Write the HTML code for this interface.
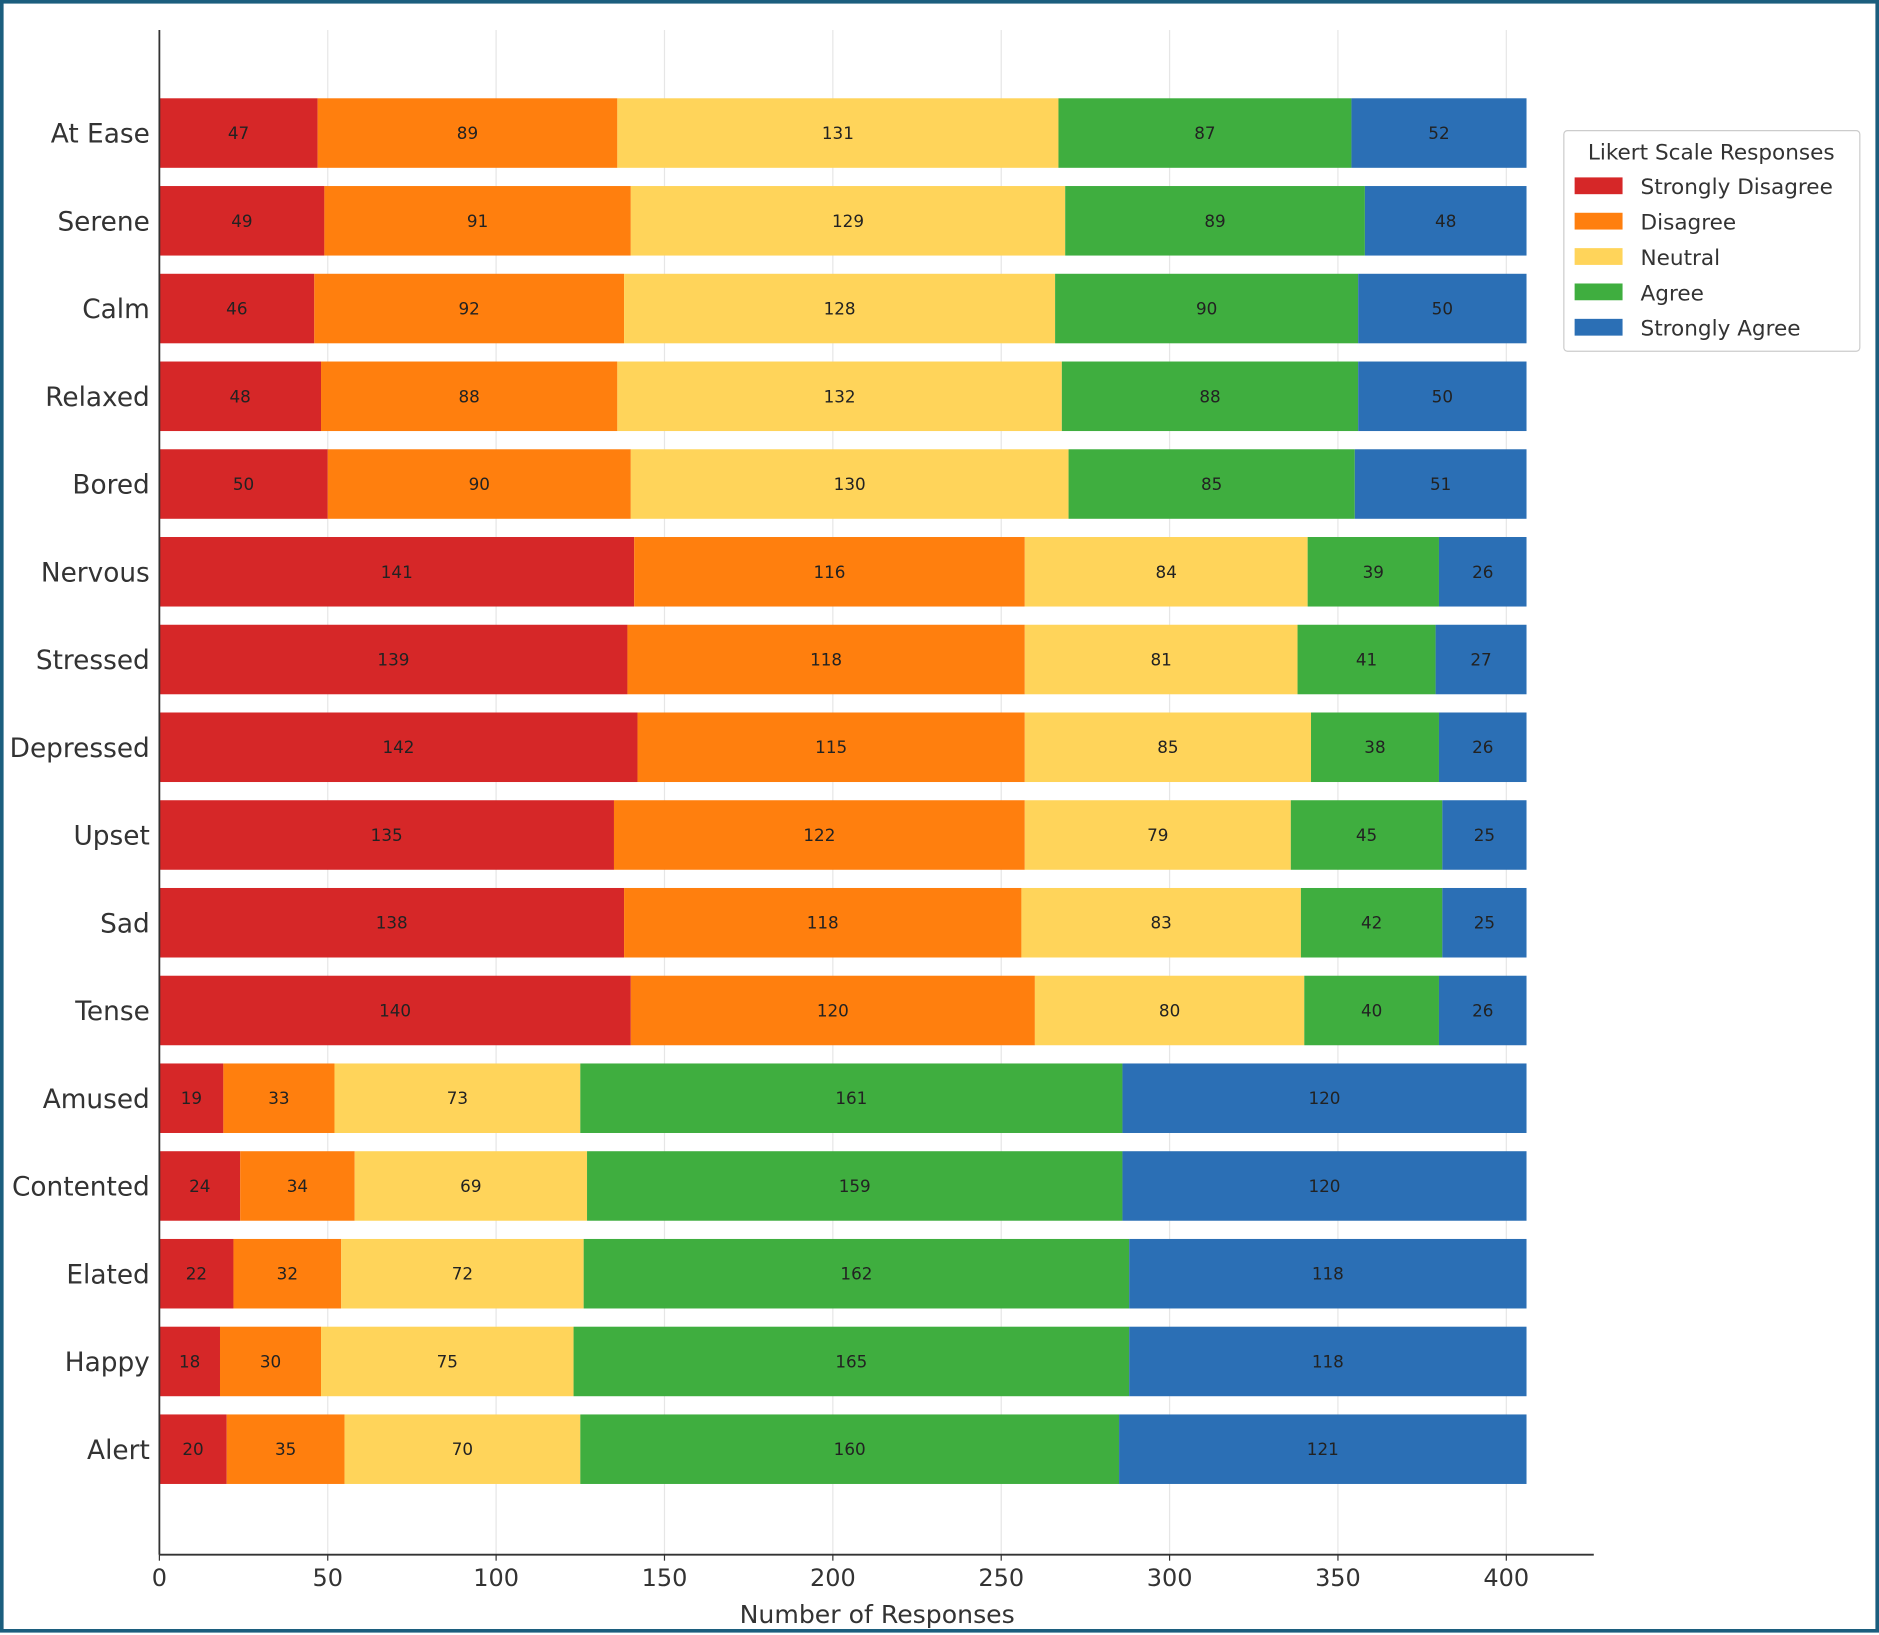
<!DOCTYPE html>
<html><head><meta charset="utf-8"><style>
html,body{margin:0;padding:0;background:#fff;}
svg{display:block;}
text{font-family:"DejaVu Sans","Liberation Sans",sans-serif;}
</style></head><body>
<svg id="chart" width="1879" height="1635" viewBox="0 0 1568 1364" preserveAspectRatio="none" xmlns="http://www.w3.org/2000/svg">
<rect x="1.5" y="1.5" width="1565" height="1359" fill="#fff" stroke="#1b5e7e" stroke-width="3"/>
<g id="grid"></g>
<g id="bars"></g>
<g id="axes"></g>
<g id="legend"></g>
</svg>
<script>
const categories=["At Ease","Serene","Calm","Relaxed","Bored","Nervous","Stressed","Depressed","Upset","Sad","Tense","Amused","Contented","Elated","Happy","Alert"];
const strongDisagree=[47,49,46,48,50,141,139,142,135,138,140,19,24,22,18,20];
const disagree=[89,91,92,88,90,116,118,115,122,118,120,33,34,32,30,35];
const neutral=[131,129,128,132,130,84,81,85,79,83,80,73,69,72,75,70];
const agree=[87,89,90,88,85,39,41,38,45,42,40,161,159,162,165,160];
const strongAgree=[52,48,50,50,51,26,27,26,25,25,26,120,120,118,118,121];
const seriesNames=["Strongly Disagree","Disagree","Neutral","Agree","Strongly Agree"];
const xTicks=[0,50,100,150,200,250,300,350,400];
const colors=["#d62728","#ff7f0e","#ffd45a","#3fae3f","#2b6fb5"];
const series=[strongDisagree,disagree,neutral,agree,strongAgree];
const NS="http://www.w3.org/2000/svg";
const x0=133,pxPer=(1257-133)/400,yFirst=111,yStep=(1209-111)/15,barH=58,axisY=1297;
const X=v=>x0+v*pxPer;
const Y=i=>yFirst+i*yStep;
function mk(parent,tag,attrs,txt){const e=document.createElementNS(NS,tag);for(const k in attrs)e.setAttribute(k,attrs[k]);if(txt!==undefined)e.textContent=txt;document.getElementById(parent).appendChild(e);return e;}
xTicks.forEach(t=>{
  const g=mk('grid','line',{x1:X(t),x2:X(t),y1:25,y2:axisY,stroke:'#e6e6e6','stroke-width':1});
  
  
});
categories.forEach((c,i)=>{
  let acc=0;
  series.forEach((s,k)=>{
    const v=s[i];
    const r=mk('bars','rect',{x:X(acc),y:Y(i)-barH/2,width:X(acc+v)-X(acc),height:barH,fill:colors[k]});
    
    
    const t=mk('bars','text',{x:X(acc+v/2),y:Y(i)+5,'text-anchor':'middle','font-size':14,fill:'#222'},v);
    
    
    acc+=v;
  });
  const l=mk('axes','text',{x:125,y:Y(i)+8,'text-anchor':'end','font-size':22,fill:'#333'},c);
  
  
});
const sp=mk('axes','line',{x1:x0,x2:x0,y1:25,y2:axisY,stroke:'#333','stroke-width':1.5});


const ax=mk('axes','line',{x1:x0,x2:1330,y1:axisY,y2:axisY,stroke:'#333','stroke-width':1.5});


xTicks.forEach(t=>{
  const tk=mk('axes','line',{x1:X(t),x2:X(t),y1:axisY,y2:axisY+5,stroke:'#333','stroke-width':1});
  
  
  const tl=mk('axes','text',{x:X(t),y:axisY+26,'text-anchor':'middle','font-size':20,fill:'#333'},t);
  
  
});
const xt=mk('axes','text',{x:732,y:1354,'text-anchor':'middle','font-size':21,fill:'#333'},'Number of Responses');


const lb=mk('legend','rect',{x:1305,y:109,width:247,height:184,fill:'#fff',stroke:'#ccc','stroke-width':1,rx:3});


const lt=mk('legend','text',{x:1428,y:133,'text-anchor':'middle','font-size':18,fill:'#333'},'Likert Scale Responses');


seriesNames.forEach((n,k)=>{
  const y=155+k*29.5;
  const sw=mk('legend','rect',{x:1314,y:y-7,width:40,height:14,fill:colors[k]});
  
  
  const tx=mk('legend','text',{x:1369,y:y+7,'font-size':18,fill:'#333'},n);
  
  
});
</script>
</body></html>
